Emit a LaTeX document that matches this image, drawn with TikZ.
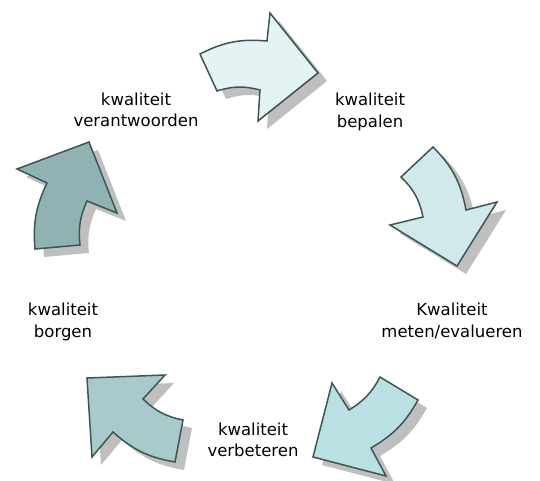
\documentclass[tikz,border=0pt]{standalone}
\usepackage{fontspec}
\setmainfont{DejaVu Sans}
\usetikzlibrary{shadows}
\definecolor{myline}{HTML}{3E5555}
\definecolor{myshadow}{HTML}{BFBFBF}
\definecolor{cycleA}{HTML}{E4F3F3}
\definecolor{cycleB}{HTML}{D1E9EB}
\definecolor{cycleC}{HTML}{BBE0E4}
\definecolor{cycleD}{HTML}{A8CACB}
\definecolor{cycleE}{HTML}{91B2B3}

\begin{document}
\begin{tikzpicture}[x=1pt,y=-1pt]
\useasboundingbox (0,0) rectangle (540,481);
\tikzset{ArrowStyle/.style ={draw=myline, line width=1.5pt, line join=miter,
  drop shadow={shadow xshift=9pt, shadow yshift=-8pt, fill=myshadow, opacity=1}}}
\tikzset{LabelStyle/.style ={align=center, inner sep=0pt, font=\fontsize{16.5}{21.5}\selectfont}}
\draw[ArrowStyle, fill=cycleA] (200,54) to[bend left=16] (267,41) -- (270,13) -- (318,73)
  -- (258,121) -- (260,90) to[bend right=16] (217,91) -- cycle;
\draw[ArrowStyle, fill=cycleB] (433,147) to[bend left=17] (466,210) -- (497,202) -- (457,266)
  -- (390,225) -- (423,217) to[bend right=17] (401,177) -- cycle;
\draw[ArrowStyle, fill=cycleC] (418,400) to[bend left=15] (371,448) -- (386,476) -- (313,457)
  -- (332,383) -- (349,410) to[bend right=15] (380,377) -- cycle;
\draw[ArrowStyle, fill=cycleD] (175,462) to[bend left=16] (113,432) -- (92,457) -- (87,378)
  -- (165,375) -- (143,399) to[bend right=16] (183,420) -- cycle;
\draw[ArrowStyle, fill=cycleE] (35,249) to[bend left=15] (47,183) -- (17,169) -- (89,142)
  -- (117,213) -- (87,201) to[bend right=15] (80,245) -- cycle;
\node[LabelStyle] (verantwoorden) at (136,110) {kwaliteit\\verantwoorden};
\node[LabelStyle] (bepalen) at (370,112) {kwaliteit\\bepalen};
\node[LabelStyle] (meten) at (452,321) {Kwaliteit\\meten/evalueren};
\node[LabelStyle] (borgen) at (63,322) {kwaliteit\\borgen};
\node[LabelStyle] (verbeteren) at (253,440) {kwaliteit\\verbeteren};
\end{tikzpicture}
\end{document}
